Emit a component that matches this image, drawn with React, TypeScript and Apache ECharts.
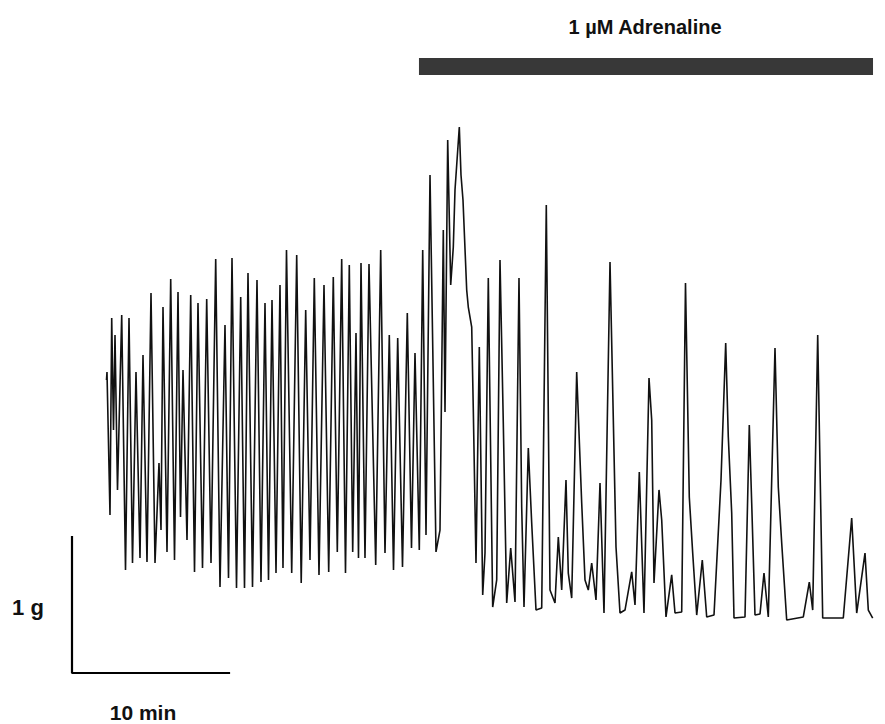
import React, { useEffect, useRef } from "react";
import * as echarts from "echarts";

// Time in minutes (origin at the scale bar), force in grams (origin at scale-bar foot)
const timeMin: number[] = [
  2.197, 2.229, 2.42, 2.529, 2.643, 2.739, 2.898, 3.166, 3.408, 3.631, 3.854, 4.076, 4.331, 4.522, 4.777,
  5.032, 5.287, 5.541, 5.669, 5.796, 6.051, 6.287, 6.529, 6.752, 6.911, 7.07, 7.325, 7.561, 7.803, 8.025,
  8.312, 8.58, 8.854, 9.153, 9.427, 9.745, 9.968, 10.191, 10.478, 10.745, 10.987, 11.21, 11.497, 11.783,
  12.038, 12.293, 12.516, 12.739, 12.994, 13.248, 13.439, 13.662, 13.994, 14.312, 14.599, 14.885, 15.159,
  15.433, 15.732, 16.051, 16.35, 16.643, 16.898, 17.178, 17.42, 17.662, 17.879, 18.089, 18.248, 18.408,
  18.662, 18.917, 19.344, 19.662, 19.936, 20.21, 20.478, 20.745, 21.051, 21.357, 21.624, 21.847, 22.121,
  22.338, 22.548, 22.803, 23.185, 23.439, 23.65, 23.758, 23.93, 24.121, 24.287, 24.395, 24.669, 24.777,
  24.904, 25.14, 25.242, 25.459, 25.561, 25.732, 25.943, 26.159, 26.306, 26.516, 26.796, 27.051, 27.261,
  27.471, 27.688, 27.943, 28.217, 28.471, 28.643, 28.79, 29.064, 29.28, 29.554, 29.917, 30.21, 30.446,
  30.764, 30.975, 31.191, 31.465, 31.611, 31.828, 32.146, 32.465, 32.675, 32.885, 33.102, 33.376, 33.631,
  33.885, 34.268, 34.65, 34.904, 35.223, 35.65, 35.86, 36.134, 36.433, 36.752, 36.924, 37.07, 37.389,
  37.561, 37.834, 38.197, 38.408, 38.834, 39.076, 39.318, 39.535, 39.79, 40.146, 40.427, 40.892, 41.338,
  41.637, 41.803, 42.019, 42.166, 42.866, 43.14, 43.293, 43.503, 43.822, 44.076, 44.35, 44.777, 44.987,
  45.204, 45.522, 46.58, 46.962, 47.178, 47.497, 47.815, 49.127, 49.662, 49.981, 50.51, 50.72, 51.0,
];

const forceG: number[] = [
  2.154, 2.213, 1.162, 2.61, 1.787, 2.485, 1.346, 2.632, 0.757, 2.61, 0.809, 2.213, 0.846, 2.338, 0.816,
  2.794, 0.809, 1.544, 1.051, 2.691, 0.89, 2.897, 0.831, 2.801, 1.147, 2.228, 0.978, 2.779, 0.743, 2.721,
  0.772, 2.75, 0.809, 3.044, 0.632, 2.559, 0.699, 3.051, 0.625, 2.765, 0.625, 2.941, 0.632, 2.89,
  0.669, 2.721, 0.684, 2.743, 0.735, 2.853, 0.772, 3.11, 0.735, 3.074, 0.662, 2.669, 0.831,
  2.904, 0.721, 2.853, 0.743, 2.912, 0.89, 3.044, 0.735, 3.0, 0.89, 2.5, 0.846, 3.015,
  0.846, 3.007, 0.794, 3.11, 0.882, 2.485, 0.757, 2.463, 0.779, 2.647, 0.919, 2.353, 0.904,
  3.11, 1.015, 3.662, 0.89, 1.051, 3.257, 1.919, 3.919, 2.853, 3.132, 3.551, 4.015, 3.662,
  3.478, 2.816, 2.691, 2.544, 1.934, 0.809, 2.397, 0.574, 0.882, 2.904, 0.485, 0.684, 3.037,
  1.838, 0.515, 0.919, 0.522, 2.904, 1.221, 0.485, 1.654, 1.103, 0.463, 0.478, 3.441, 0.61,
  0.515, 1.0, 0.61, 1.419, 0.735, 0.551, 2.213, 1.25, 0.684, 0.61, 0.809, 0.537, 1.397,
  0.441, 3.022, 0.926, 0.441, 0.463, 0.743, 0.5, 1.478, 0.441, 2.169, 1.86, 0.662, 1.346,
  1.125, 0.412, 0.721, 0.441, 0.449, 2.868, 1.294, 0.882, 0.426, 0.831, 0.412, 0.426, 1.419,
  2.426, 1.735, 1.176, 0.404, 0.412, 1.824, 1.25, 0.426, 0.434, 0.735, 0.412, 2.39, 1.368,
  0.956, 0.39, 0.412, 0.669, 0.463, 2.485, 0.404, 0.404, 1.14, 0.441, 0.882, 0.463, 0.404,
];

// Scale bars: 1 g vertical, 10 min horizontal
const scaleBarTime: number[] = [0, 0, 10];
const scaleBarForce: number[] = [1, 0, 0];

// Adrenaline application period (min) and bar level (g)
const adrenalineStart = 22.1;
const adrenalineEnd = 51.02;
const adrenalineBarLow = 4.397;
const adrenalineBarHigh = 4.522;

const labelAdrenaline = "1 \u00b5M Adrenaline";
const labelForce = "1 g";
const labelTime = "10 min";

const X_MAX = 51.5;
const Y_MAX = 4.7;
const PX_PER_MIN = 15.7;
const PX_PER_G = 136;

export default function App() {
  const ref = useRef<HTMLDivElement>(null);

  useEffect(() => {
    if (!ref.current) return;
    const chart = echarts.init(ref.current, undefined, { renderer: "svg" });
    const trace = timeMin.map((t, i) => [t, forceG[i]]);
    const bars = scaleBarTime.map((t, i) => [t, scaleBarForce[i]]);
    const font = "'Liberation Sans', Arial, sans-serif";

    chart.setOption({
      animation: false,
      backgroundColor: "#ffffff",
      grid: {
        left: 72,
        top: 673 - Y_MAX * PX_PER_G,
        width: X_MAX * PX_PER_MIN,
        height: Y_MAX * PX_PER_G,
        containLabel: false,
      },
      xAxis: { type: "value", min: 0, max: X_MAX, show: false },
      yAxis: { type: "value", min: 0, max: Y_MAX, show: false },
      series: [
        {
          type: "line",
          name: "tension",
          data: trace,
          showSymbol: false,
          symbol: "none",
          clip: false,
          lineStyle: { color: "#111111", width: 1.6 },
          markArea: {
            silent: true,
            itemStyle: { color: "#383838", borderWidth: 0 },
            data: [
              [
                { coord: [adrenalineStart, adrenalineBarLow] },
                { coord: [adrenalineEnd, adrenalineBarHigh] },
              ],
            ],
          },
        },
        {
          type: "line",
          name: "scale",
          data: bars,
          showSymbol: false,
          symbol: "none",
          clip: false,
          lineStyle: { color: "#000000", width: 2.2, cap: "square" },
        },
      ],
      graphic: [
        {
          type: "text",
          x: 645,
          y: 27,
          style: {
            text: labelAdrenaline,
            font: `bold 20px ${font}`,
            fill: "#111111",
            align: "center",
            verticalAlign: "middle",
          },
        },
        {
          type: "text",
          x: 28,
          y: 607,
          style: {
            text: labelForce,
            font: `bold 22px ${font}`,
            fill: "#111111",
            align: "center",
            verticalAlign: "middle",
          },
        },
        {
          type: "text",
          x: 143,
          y: 712,
          style: {
            text: labelTime,
            font: `bold 21px ${font}`,
            fill: "#111111",
            align: "center",
            verticalAlign: "middle",
          },
        },
      ],
    });

    return () => chart.dispose();
  }, []);

  return (
    <div
      ref={ref}
      style={{ position: "fixed", left: 0, top: 0, width: 885, height: 724, background: "#fff" }}
    />
  );
}
